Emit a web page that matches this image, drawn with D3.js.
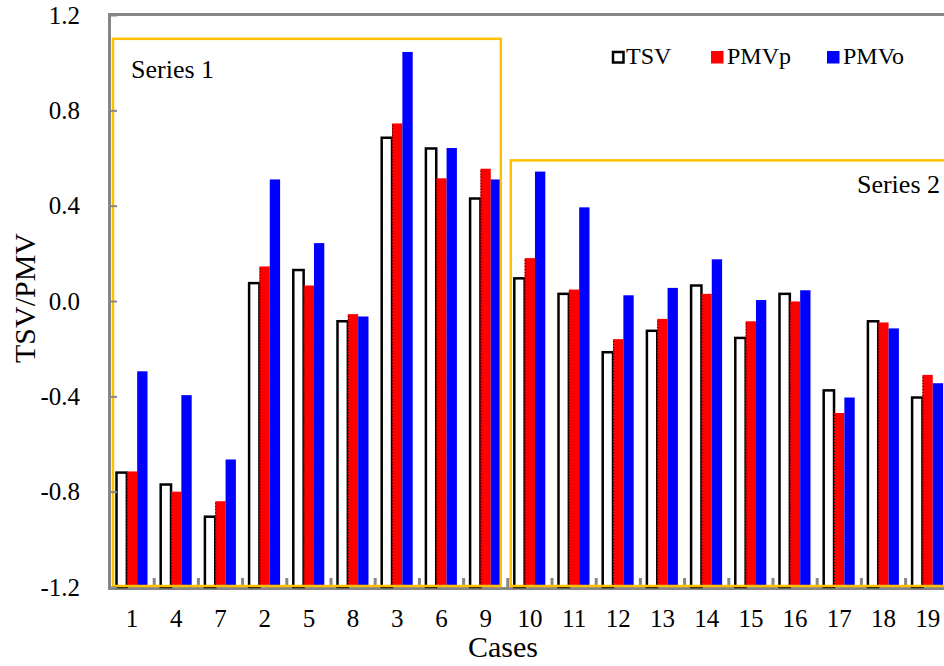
<!DOCTYPE html>
<html lang="en">
<head>
<meta charset="utf-8">
<title>TSV/PMV by case</title>
<script src="https://d3js.org/d3.v7.min.js"></script>
<style>
  body { margin: 0; background: #fff; }
  svg text { font-family: "Liberation Serif", "Times New Roman", serif; fill: #000; }
</style>
</head>
<body>
<div id="chart"></div>
<script>
// data
var cases = ["1", "4", "7", "2", "5", "8", "3", "6", "9",
             "10", "11", "12", "13", "14", "15", "16", "17", "18", "19"];
var tsv  = [-0.72, -0.77, -0.905, 0.075, 0.13, -0.085, 0.685, 0.64, 0.43,
            0.095, 0.03, -0.215, -0.125, 0.065, -0.155, 0.03, -0.375, -0.085, -0.405];
var pmvp = [-0.715, -0.80, -0.84, 0.145, 0.065, -0.055, 0.745, 0.515, 0.555,
            0.18, 0.048, -0.16, -0.075, 0.03, -0.085, -0.002, -0.47, -0.09, -0.31];
var pmvo = [-0.295, -0.395, -0.665, 0.51, 0.243, -0.065, 1.045, 0.642, 0.51,
            0.543, 0.393, 0.024, 0.055, 0.175, 0.004, 0.045, -0.405, -0.115, -0.345];
var seriesNames = ["TSV", "PMVp", "PMVo"];
var yTicks = [-1.2, -0.8, -0.4, 0, 0.4, 0.8, 1.2];

var width = 944, height = 666;
var plotLeft = 110, plotTop = 15, plotBottom = 587;
var step = 44.2;

var svg = d3.select("#chart").append("svg")
    .attr("width", width)
    .attr("height", height);

var x = d3.scaleBand()
    .domain(cases)
    .range([plotLeft, plotLeft + step * cases.length])
    .padding(0);

var sub = d3.scaleBand()
    .domain(seriesNames)
    .range([6.5, 37.5]);

var y = d3.scaleLinear()
    .domain([-1.2, 1.2])
    .range([plotBottom, plotTop]);

var rows = cases.map(function(c, i) {
  return {case: c, TSV: tsv[i], PMVp: pmvp[i], PMVo: pmvo[i]};
});

var gray = "#868686";
var yellow = "#FFC000";

// gray frame (drawn under everything else)
svg.append("rect")
    .attr("x", plotLeft - 0.5)
    .attr("y", plotTop - 0.5)
    .attr("width", 900)
    .attr("height", plotBottom + 2 - plotTop)
    .attr("fill", "none")
    .attr("stroke", gray)
    .attr("stroke-width", 3);

// bars
var groups = svg.selectAll(".grp")
    .data(rows)
    .enter().append("g")
    .attr("class", "grp")
    .attr("transform", function(d) { return "translate(" + x(d.case) + ",0)"; });

groups.append("rect")
    .attr("x", sub("TSV"))
    .attr("y", function(d) { return y(d.TSV); })
    .attr("width", sub.bandwidth())
    .attr("height", function(d) { return y(-1.2) - y(d.TSV); })
    .attr("fill", "#fff")
    .attr("stroke", "#000")
    .attr("stroke-width", 2.5);

groups.append("rect")
    .attr("x", sub("PMVp"))
    .attr("y", function(d) { return y(d.PMVp); })
    .attr("width", sub.bandwidth())
    .attr("height", function(d) { return y(-1.2) - y(d.PMVp); })
    .attr("fill", "#ff0000");

groups.append("line")
    .attr("x1", sub("PMVp") + 0.5)
    .attr("x2", sub("PMVp") + 0.5)
    .attr("y1", function(d) { return y(d.PMVp) + 2; })
    .attr("y2", y(-1.2))
    .attr("stroke", "#000")
    .attr("stroke-width", 1)
    .attr("stroke-dasharray", "1,2");

groups.append("rect")
    .attr("x", sub("PMVo"))
    .attr("y", function(d) { return y(d.PMVo); })
    .attr("width", sub.bandwidth())
    .attr("height", function(d) { return y(-1.2) - y(d.PMVo); })
    .attr("fill", "#0000ff");

// small x ticks between the groups
svg.selectAll(".xtick")
    .data(cases)
    .enter().append("rect")
    .attr("class", "xtick")
    .attr("x", function(c) { return x(c) + x.bandwidth() - 1.5; })
    .attr("y", plotBottom - 9)
    .attr("width", 3)
    .attr("height", 9)
    .attr("fill", gray);

// yellow group boxes, on top of the bars
svg.append("rect")
    .attr("x", plotLeft + 3)
    .attr("y", y(1.1))
    .attr("width", x("9") + x.bandwidth() - 7 - (plotLeft + 3))
    .attr("height", y(-1.2) - y(1.1) - 1)
    .attr("fill", "none")
    .attr("stroke", yellow)
    .attr("stroke-width", 2.5);

svg.append("rect")
    .attr("x", x("10") + 3)
    .attr("y", y(0.59))
    .attr("width", 600)
    .attr("height", y(-1.2) - y(0.59) - 1)
    .attr("fill", "none")
    .attr("stroke", yellow)
    .attr("stroke-width", 2.5);

// y axis
var yAxis = svg.append("g")
    .attr("transform", "translate(" + plotLeft + ",0)")
    .call(d3.axisLeft(y)
      .tickValues(yTicks)
      .tickSize(-7)
      .tickPadding(30)
      .tickFormat(function(d) { return d.toFixed(1); }));
yAxis.select(".domain").remove();
yAxis.selectAll(".tick line").attr("stroke", gray).attr("stroke-width", 2);
yAxis.selectAll(".tick text").attr("font-size", "25px");

// x axis labels
var xAxis = svg.append("g")
    .attr("transform", "translate(0," + plotBottom + ")")
    .call(d3.axisBottom(x).tickSize(0).tickPadding(22));
xAxis.select(".domain").remove();
xAxis.selectAll(".tick text").attr("font-size", "25px");

// axis titles
svg.append("text")
    .attr("x", 503)
    .attr("y", 657)
    .attr("text-anchor", "middle")
    .attr("font-size", "30px")
    .text("Cases");

svg.append("text")
    .attr("transform", "translate(35,298) rotate(-90)")
    .attr("text-anchor", "middle")
    .attr("font-size", "30px")
    .text("TSV/PMV");

// group labels
svg.append("text")
    .attr("x", 131)
    .attr("y", 78)
    .attr("font-size", "26px")
    .text("Series 1");

svg.append("text")
    .attr("x", 940)
    .attr("y", 193)
    .attr("text-anchor", "end")
    .attr("font-size", "26px")
    .text("Series 2");

// legend
var legendX = [612, 711, 827];
var legend = svg.selectAll(".leg")
    .data(seriesNames)
    .enter().append("g")
    .attr("class", "leg")
    .attr("transform", function(d, i) { return "translate(" + legendX[i] + ",51)"; });

legend.append("rect")
    .attr("x", function(d) { return d === "TSV" ? 1 : 0; })
    .attr("y", function(d) { return d === "TSV" ? 1 : 0; })
    .attr("width", function(d) { return d === "TSV" ? 10.5 : 12.5; })
    .attr("height", function(d) { return d === "TSV" ? 10.5 : 12.5; })
    .attr("fill", function(d) { return d === "TSV" ? "#fff" : (d === "PMVp" ? "#ff0000" : "#0000ff"); })
    .attr("stroke", function(d) { return d === "TSV" ? "#000" : "none"; })
    .attr("stroke-width", 2.5);

legend.append("text")
    .attr("x", function(d) { return d === "TSV" ? 14 : 16; })
    .attr("y", 13)
    .attr("font-size", "24px")
    .text(function(d) { return d; });
</script>
</body>
</html>
